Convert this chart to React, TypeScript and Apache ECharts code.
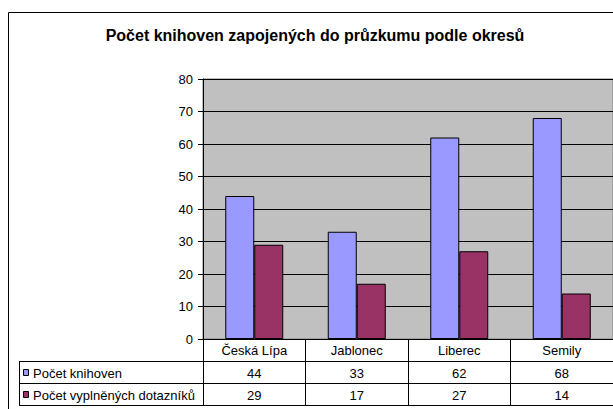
import React, { useEffect, useRef } from "react";
import * as echarts from "echarts";

const titleText = "Počet knihoven zapojených do průzkumu podle okresů";
const categories = ["Česká Lípa", "Jablonec", "Liberec", "Semily"];
const seriesNames = ["Počet knihoven", "Počet vyplněných dotazníků"];
const knihovny = [44, 33, 62, 68];
const dotazniky = [29, 17, 27, 14];
const seriesColors = ["#9999FF", "#993366"];
const yMin = 0;
const yMax = 80;
const yInterval = 10;

const FONT = '"Liberation Sans", Arial, sans-serif';

export default function App() {
  const ref = useRef<HTMLDivElement>(null);
  useEffect(() => {
    if (!ref.current) return;
    const chart = echarts.init(ref.current, undefined, { renderer: "svg" });
    const seriesData = [knihovny, dotazniky];
    const gridLeft = 203;
    const gridTop = 79;
    const gridHeight = 260;
    const plotBottom = gridTop + gridHeight;
    const rowH = 22;
    const tableLeft = 19;
    const tableRight = 613;
    chart.setOption({
      animation: false,
      backgroundColor: "#ffffff",
      textStyle: { fontFamily: FONT },
      title: {
        text: titleText,
        left: 315,
        top: 27,
        padding: 0,
        textAlign: "center",
        textStyle: { fontFamily: FONT, fontSize: 16, fontWeight: "bold", color: "#000" },
      },
      grid: {
        left: gridLeft,
        top: gridTop,
        width: 410,
        height: gridHeight,
        show: true,
        backgroundColor: "#C0C0C0",
        borderColor: "#808080",
        borderWidth: 1,
      },
      xAxis: {
        type: "category",
        data: categories,
        axisLine: { show: true, lineStyle: { color: "#000", width: 1 } },
        axisTick: { show: true, length: rowH * 3 + 1, lineStyle: { color: "#000", width: 1 } },
        axisLabel: { margin: 5, fontSize: 13, color: "#000", fontFamily: FONT },
        splitLine: { show: false },
      },
      yAxis: {
        type: "value",
        min: yMin,
        max: yMax,
        interval: yInterval,
        axisLine: { show: true, lineStyle: { color: "#000", width: 1 } },
        axisTick: { show: true, length: 5, lineStyle: { color: "#000", width: 1 } },
        axisLabel: { margin: 10, fontSize: 13, color: "#000", fontFamily: FONT },
        splitLine: { show: true, lineStyle: { color: "#000", width: 1 } },
      },
      series: seriesNames.map((name, i) => ({
        name,
        type: "bar",
        data: seriesData[i],
        barWidth: 29,
        barGap: "0%",
        itemStyle: { color: seriesColors[i], borderColor: "#000", borderWidth: 1 },
      })),
    });

    const xs = categories.map((_, i) => chart.convertToPixel({ xAxisIndex: 0 }, i) as number);
    const elements: any[] = [];
    // outer chart border
    elements.push({
      type: "rect",
      shape: { x: 8.5, y: 12.5, width: 640, height: 440 },
      style: { fill: "none", stroke: "#000", lineWidth: 1 },
      silent: true,
    });
    const rowTops = [plotBottom + rowH, plotBottom + rowH * 2];
    const lineYs = [plotBottom + rowH, plotBottom + rowH * 2, plotBottom + rowH * 3];
    lineYs.forEach((y) => {
      elements.push({
        type: "line",
        shape: { x1: tableLeft, y1: y + 0.5, x2: tableRight, y2: y + 0.5 },
        style: { stroke: "#000", lineWidth: 1 },
        silent: true,
      });
    });
    elements.push({
      type: "line",
      shape: { x1: tableLeft + 0.5, y1: plotBottom + rowH, x2: tableLeft + 0.5, y2: plotBottom + rowH * 3 + 1 },
      style: { stroke: "#000", lineWidth: 1 },
      silent: true,
    });
    seriesNames.forEach((name, r) => {
      const cy = rowTops[r] + rowH / 2 + 1;
      elements.push({
        type: "rect",
        shape: { x: 23.5, y: cy - 3.5, width: 5, height: 6 },
        style: { fill: seriesColors[r], stroke: "#000", lineWidth: 1 },
        silent: true,
      });
      elements.push({
        type: "text",
        x: 33,
        y: cy,
        style: { text: name, fill: "#000", font: `13px ${FONT}`, align: "left", verticalAlign: "middle" },
        silent: true,
      });
      seriesData[r].forEach((v, i) => {
        elements.push({
          type: "text",
          x: xs[i],
          y: cy,
          style: { text: String(v), fill: "#000", font: `13px ${FONT}`, align: "center", verticalAlign: "middle" },
          silent: true,
        });
      });
    });
    chart.setOption({ graphic: { elements } });
    return () => chart.dispose();
  }, []);
  return (
    <div
      ref={ref}
      style={{ position: "fixed", left: 0, top: 0, width: 613, height: 409, background: "#fff" }}
    />
  );
}
